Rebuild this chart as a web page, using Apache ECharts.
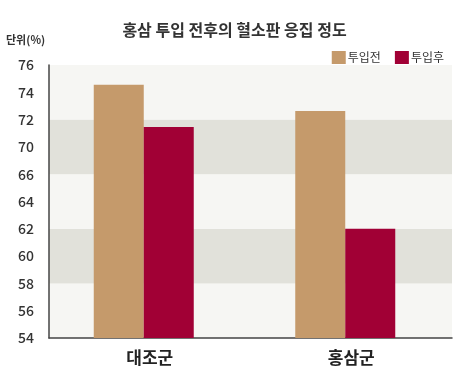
<!DOCTYPE html>
<html>
<head>
<meta charset="utf-8">
<script src="https://cdn.jsdelivr.net/npm/echarts@6/dist/echarts.min.js"></script>
<style>
  html, body { margin: 0; padding: 0; background: #fff; }
  #main { width: 469px; height: 378px; }
</style>
</head>
<body>
<div id="main"></div>
<script>
// 홍삼 투입 전후 혈소판 응집 정도
var groups = ['대조군', '홍삼군'];
var seriesNames = ['투입전', '투입후'];
var beforeVals = [74.4, 72.3];   // 투입전
var afterVals = [71.0, 62.8];    // 투입후
var yTickLabels = ['54', '56', '58', '60', '62', '64', '66', '70', '72', '74', '76'];

var colorBefore = '#c59a6b';
var colorAfter = '#a10035';
var font = '"Noto Sans CJK KR", "Noto Sans", sans-serif';

var chart = echarts.init(document.getElementById('main'));
var option = {
    backgroundColor: '#fff',
    animation: false,
    title: {
        text: '홍삼 투입 전후의 혈소판 응집 정도',
        left: 'center',
        top: 17,
        textStyle: { fontFamily: font, fontSize: 16, fontWeight: 'bold', color: '#333' }
    },
    graphic: [{
        type: 'text',
        left: 6,
        top: 34,
        style: { text: '단위(%)', font: 'bold 11px ' + font, fill: '#333' }
    }],
    legend: {
        data: seriesNames,
        right: 20,
        top: 46,
        icon: 'rect',
        itemWidth: 14,
        itemHeight: 13,
        itemGap: 14,
        textStyle: { fontFamily: font, fontSize: 12, color: '#333', padding: [0, 0, 0, -3] }
    },
    grid: { left: 49, right: 17, top: 65, bottom: 40 },
    xAxis: {
        type: 'category',
        data: groups,
        axisLine: { show: true, lineStyle: { color: '#444', width: 1.5 } },
        axisTick: { show: false },
        axisLabel: { fontFamily: font, fontSize: 17, fontWeight: 'bold', color: '#222', margin: 11 }
    },
    yAxis: [{
        type: 'value',
        min: 54,
        max: 76,
        show: false,
        splitLine: { show: false }
    }, {
        type: 'category',
        data: yTickLabels,
        boundaryGap: false,
        position: 'left',
        axisLine: { show: true, lineStyle: { color: '#444', width: 1.5 } },
        axisTick: { show: false },
        axisLabel: { interval: 0, fontFamily: font, fontSize: 14, fontWeight: 500, color: '#333', margin: 15 },
        splitLine: { show: false },
        splitArea: { show: true, interval: 1, areaStyle: { color: ['#f6f6f3', '#e1e1da'] } }
    }],
    series: [{
        name: seriesNames[0],
        type: 'bar',
        yAxisIndex: 0,
        barWidth: 50,
        barGap: 0,
        itemStyle: { color: colorBefore },
        data: beforeVals
    }, {
        name: seriesNames[1],
        type: 'bar',
        yAxisIndex: 0,
        barWidth: 50,
        barGap: 0,
        itemStyle: { color: colorAfter },
        data: afterVals
    }, {
        // spacer so the pair sits a little left of the category centre
        name: 'spacer',
        type: 'bar',
        yAxisIndex: 0,
        barWidth: 12,
        barGap: 0,
        silent: true,
        data: ['-', '-']
    }]
};
chart.setOption(option);
</script>
</body>
</html>
